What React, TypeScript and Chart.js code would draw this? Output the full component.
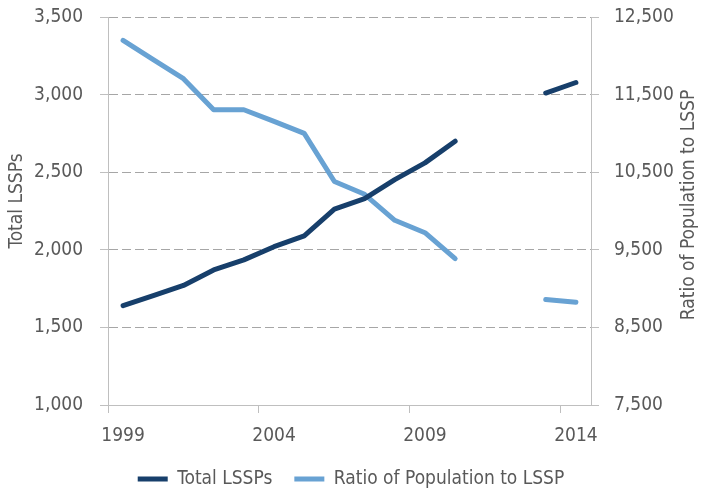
import { useEffect, useRef } from 'react';
import { Chart, registerables } from 'chart.js';

Chart.register(...registerables);

const years = ['1999', '2000', '2001', '2002', '2003', '2004', '2005', '2006', '2007', '2008', '2009', '2010', '2011', '2012', '2013', '2014'];
const totalLSSPs = [1640, 1705, 1770, 1870, 1935, 2020, 2090, 2262, 2330, 2452, 2560, 2700, null, null, 3010, 3078];
const ratioPopToLSSP = [12200, 11950, 11705, 11305, 11305, 11155, 11000, 10380, 10215, 9880, 9720, 9385, null, null, 8860, 8825];
const leftAxisRange = [1000, 3500];
const leftAxisStep = 500;
const rightAxisRange = [7500, 12500];
const rightAxisStep = 1000;
const seriesNames = ['Total LSSPs', 'Ratio of Population to LSSP'];
const axisTitles = ['Total LSSPs', 'Ratio of Population to LSSP'];

const FONT = '"DejaVu Sans Condensed", "Liberation Sans Narrow", sans-serif';
const FS = 19;
const TEXT = '#595959';
const AXIS = '#BFBFBF';
const GRID = '#A6A6A6';
const DARK = '#173F6B';
const LIGHT = '#68A2D3';

const axisTitlePlugin = {
  id: 'axisTitles',
  afterDraw(chart: any) {
    const ctx = chart.ctx;
    const yl = chart.scales.y;
    const yr = chart.scales.y1;
    const cy = (yl.top + yl.bottom) / 2;
    ctx.save();
    ctx.font = `${FS}px ${FONT}`;
    ctx.fillStyle = TEXT;
    ctx.textAlign = 'center';
    ctx.textBaseline = 'middle';
    ctx.save();
    ctx.translate(yl.left + 17.5, cy - 10);
    ctx.rotate(-Math.PI / 2);
    ctx.fillText(axisTitles[0], 0, 0);
    ctx.restore();
    ctx.save();
    ctx.translate(yr.right - 13, cy - 6);
    ctx.rotate(-Math.PI / 2);
    ctx.fillText(axisTitles[1], 0, 0);
    ctx.restore();
    ctx.restore();
  },
};

const noEdgePadding = (s: any) => {
  s.paddingTop = 0;
  s.paddingBottom = 0;
};

export default function App() {
  const ref = useRef<HTMLCanvasElement | null>(null);
  useEffect(() => {
    if (!ref.current) return;
    Chart.defaults.font.family = FONT;
    const chart = new Chart(ref.current, {
      type: 'line',
      data: {
        labels: years,
        datasets: [
          {
            label: seriesNames[0],
            data: totalLSSPs,
            yAxisID: 'y',
            borderColor: DARK,
            backgroundColor: DARK,
            borderWidth: 5,
            pointRadius: 0,
            borderCapStyle: 'round',
            borderJoinStyle: 'round',
            tension: 0,
            spanGaps: false,
          },
          {
            label: seriesNames[1],
            data: ratioPopToLSSP,
            yAxisID: 'y1',
            borderColor: LIGHT,
            backgroundColor: LIGHT,
            borderWidth: 5,
            pointRadius: 0,
            borderCapStyle: 'round',
            borderJoinStyle: 'round',
            tension: 0,
            spanGaps: false,
          },
        ],
      },
      options: {
        responsive: false,
        animation: false,
        layout: { padding: { top: 17, bottom: -4.5, left: 0, right: 0 } },
        plugins: {
          tooltip: { enabled: false },
          legend: {
            position: 'bottom',
            labels: {
              usePointStyle: true,
              pointStyle: 'line',
              pointStyleWidth: 30,
              font: { size: FS },
              color: TEXT,
              padding: 22,
            },
          },
        },
        scales: {
          x: {
            type: 'category',
            offset: true,
            grid: {
              offset: true,
              drawOnChartArea: false,
              drawTicks: true,
              tickLength: 8,
              tickColor: (ctx: any) => (ctx.index !== undefined && ctx.index % 5 === 0 ? AXIS : 'rgba(0,0,0,0)'),
            },
            border: { display: true, color: AXIS, width: 1 },
            ticks: {
              autoSkip: false,
              maxRotation: 0,
              minRotation: 0,
              padding: 12,
              font: { size: FS },
              color: TEXT,
              callback: (_v: any, i: number) => (i % 5 === 0 ? years[i] : ''),
            },
            afterFit: (s: any) => { s.height = 42.5; },
          },
          y: {
            position: 'left',
            min: leftAxisRange[0],
            max: leftAxisRange[1],
            ticks: {
              stepSize: leftAxisStep,
              padding: 17,
              font: { size: FS },
              color: TEXT,
              callback: (v: any) => Number(v).toLocaleString('en-US'),
            },
            grid: {
              color: (ctx: any) => (ctx.tick && ctx.tick.value === leftAxisRange[0] ? 'rgba(0,0,0,0)' : GRID),
              tickColor: AXIS,
              tickLength: 8,
              lineWidth: 1,
            },
            border: { display: true, color: AXIS, width: 1, dash: [9, 4] },
            afterFit: (s: any) => { s.width = 108; noEdgePadding(s); },
          },
          y1: {
            position: 'right',
            min: rightAxisRange[0],
            max: rightAxisRange[1],
            ticks: {
              stepSize: rightAxisStep,
              padding: 15,
              font: { size: FS },
              color: TEXT,
              callback: (v: any) => Number(v).toLocaleString('en-US'),
            },
            grid: {
              drawOnChartArea: false,
              tickColor: AXIS,
              tickLength: 8,
            },
            border: { display: true, color: AXIS, width: 1 },
            afterFit: (s: any) => { s.width = 111; noEdgePadding(s); },
          },
        },
      },
      plugins: [axisTitlePlugin],
    });
    return () => chart.destroy();
  }, []);
  return (
    <div style={{ position: 'absolute', left: 0, top: 0, width: 702, height: 494, background: '#fff' }}>
      <canvas ref={ref} width={702} height={494} style={{ display: 'block' }} />
    </div>
  );
}
